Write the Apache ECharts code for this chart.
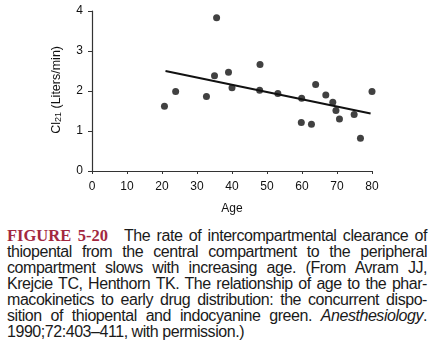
<!DOCTYPE html>
<html>
<head>
<meta charset="utf-8">
<script src="https://cdn.jsdelivr.net/npm/echarts@6/dist/echarts.min.js"></script>
<style>
  body { margin: 0; background: #fff; }
  #wrap { position: relative; width: 437px; height: 354px; overflow: hidden; }
  #chart { position: absolute; left: 0; top: 0; width: 437px; height: 220px; }
  #caption {
    position: absolute; left: 7px; top: 228px; width: 420px;
    font-family: "Liberation Sans", Arial, sans-serif; font-size: 16px;
    letter-spacing: -0.45px; line-height: 16px; color: #1a1a1a;
  }
  #caption div { text-align: justify; text-align-last: justify; white-space: nowrap; }
  #caption div.last { text-align-last: left; }
  .fig { font-family: "Liberation Serif", serif; font-weight: bold; color: #a3283f; font-size: 16.5px; letter-spacing: 0; margin-right: 16px; }
</style>
</head>
<body>
<div id="wrap">
  <div id="chart"></div>
  <div id="caption">
    <div><span class="fig">FIGURE 5-20</span>The rate of intercompartmental clearance of</div>
    <div>thiopental from the central compartment to the peripheral</div>
    <div>compartment slows with increasing age. (From Avram JJ,</div>
    <div>Krejcie TC, Henthorn TK. The relationship of age to the phar-</div>
    <div>macokinetics to early drug distribution: the concurrent dispo-</div>
    <div>sition of thiopental and indocyanine green. <i>Anesthesiology</i>.</div>
    <div class="last">1990;72:403–411, with permission.)</div>
  </div>
</div>
<script>
// measured points: age (years) and Cl21 (L/min)
var ages = [20.7, 23.9, 32.7, 35.0, 35.6, 39.0, 40.0, 48.0, 47.9, 53.1, 59.9,
            59.8, 62.7, 63.9, 66.8, 68.8, 69.7, 70.7, 74.9, 76.7, 80.0];
var clearance = [1.62, 1.99, 1.86, 2.38, 3.83, 2.47, 2.08, 2.66, 2.02, 1.94, 1.82,
                 1.21, 1.17, 2.16, 1.90, 1.72, 1.51, 1.30, 1.41, 0.82, 1.99];
// regression line end points
var fitX = [21, 79.6];
var fitY = [2.50, 1.44];

var xTicks = [0, 10, 20, 30, 40, 50, 60, 70, 80];
var yTicks = [0, 1, 2, 3, 4];

var myChart = echarts.init(document.getElementById('chart'));

var axisFont = { color: '#111', fontSize: 12, fontFamily: 'Liberation Sans, Arial, sans-serif' };

var option = {
  animation: false,
  grid: { left: 92, right: 65, top: 11, height: 160 },
  xAxis: {
    type: 'value',
    min: xTicks[0], max: xTicks[xTicks.length - 1], interval: 10,
    name: 'Age',
    nameLocation: 'middle',
    nameGap: 32,
    nameTextStyle: axisFont,
    axisLine: { show: true, onZero: false, lineStyle: { color: '#333', width: 1.2 } },
    axisTick: { show: true, length: 3, lineStyle: { color: '#333' } },
    axisLabel: Object.assign({ margin: 10 }, axisFont),
    splitLine: { show: false }
  },
  yAxis: {
    type: 'value',
    min: yTicks[0], max: yTicks[yTicks.length - 1], interval: 1,
    axisLine: { show: true, lineStyle: { color: '#333', width: 1.2 } },
    axisTick: { show: true, length: 4, lineStyle: { color: '#333' } },
    axisLabel: Object.assign({ margin: 9 }, axisFont),
    splitLine: { show: false }
  },
  graphic: [{
    type: 'text',
    left: 50,
    top: 46,
    rotation: Math.PI / 2,
    originX: 0, originY: 0,
    style: {
      text: '{a|Cl}{s|21}{a| (Liters/min)}',
      rich: {
        a: { fontSize: 12.5, fontFamily: 'Liberation Sans, Arial, sans-serif', fill: '#111' },
        s: { fontSize: 9, fontFamily: 'Liberation Sans, Arial, sans-serif', fill: '#111', verticalAlign: 'bottom', padding: [5, 0, 0, 0] }
      }
    }
  }],
  series: [
    {
      type: 'line',
      data: fitX.map(function (x, i) { return [x, fitY[i]]; }),
      showSymbol: false,
      lineStyle: { color: '#111', width: 2 },
      z: 2
    },
    {
      type: 'scatter',
      data: ages.map(function (a, i) { return [a, clearance[i]]; }),
      symbolSize: 7,
      clip: false,
      itemStyle: { color: '#111' },
      z: 3
    }
  ]
};
myChart.setOption(option);
</script>
</body>
</html>
